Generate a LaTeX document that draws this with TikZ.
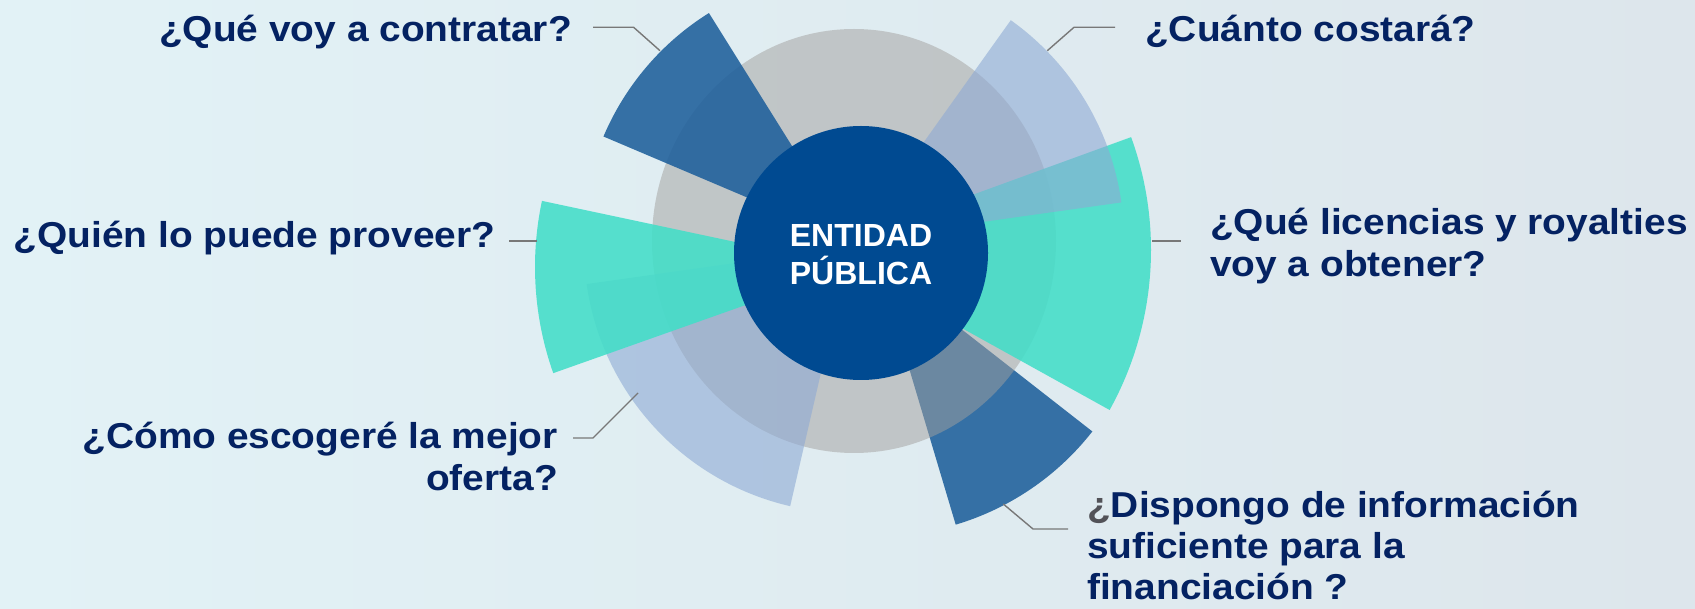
\documentclass[tikz,border=0pt]{standalone}
\usepackage{fontspec}
\setmainfont{Liberation Sans}
\newfontfamily\qfont{Liberation Sans}[FakeStretch=1.08]
\newfontfamily\cfont{Liberation Sans}
\usepackage{xcolor}
\usepackage{tikz}

\definecolor{bgleft}{RGB}{226,242,246}
\definecolor{bgright}{RGB}{221,230,236}
\definecolor{qnavy}{RGB}{4,34,98}
\definecolor{dblue}{RGB}{30,95,155}
\definecolor{lblue}{RGB}{142,170,212}
\definecolor{tealw}{RGB}{66,222,200}
\definecolor{ringgray}{RGB}{162,160,158}
\definecolor{coreblue}{RGB}{0,74,145}
\definecolor{leadgray}{RGB}{120,120,120}
\definecolor{qmark}{RGB}{82,82,88}

\begin{document}
\begin{tikzpicture}[x=1pt,y=1pt,
  question/.style={text=qnavy,font=\qfont\bfseries\fontsize{36}{42}\selectfont,inner sep=0pt},
  leader/.style={draw=leadgray,line width=1.4pt}]
\useasboundingbox (0,0) rectangle (1695,608);
\shade[left color=bgleft,right color=bgright] (0,0) rectangle (1695,608);
%\draw[step=50,gray,very thin] (0,0) grid (1695,608);
\fill[dblue,opacity=.88] (878,344) -- ++(-73.4:272) arc[start angle=-73.4,end angle=-38,radius=272] -- cycle;
\fill[ringgray,opacity=.5] (854,367) ellipse [x radius=202,y radius=212];
\fill[tealw,opacity=.88] (821,358) -- ++(-29:330) arc[start angle=-29,end angle=20,radius=330] -- cycle;
\fill[lblue,opacity=.6] (854,368) -- ++(8:270) arc[start angle=8,end angle=54.5,radius=270] -- cycle;
\fill[dblue,opacity=.88] (852,366) -- ++(122:270) arc[start angle=122,end angle=157,radius=270] -- cycle;
\fill[lblue,opacity=.6] (850,361) -- ++(188:266) arc[start angle=188,end angle=257,radius=266] -- cycle;
\fill[tealw,opacity=.88] (853,341) -- ++(168:318) arc[start angle=168,end angle=199.5,radius=318] -- cycle;
\fill[coreblue] (861,355) circle (127);
\node[text=white,font=\cfont\bfseries\fontsize{32}{38}\selectfont,align=center] (entidad) at (861,353.3) {ENTIDAD\\PÚBLICA};
\node[question,anchor=base east] (qcontratar) at (572,566.3) {¿Qué voy a contratar?};
\node[question,anchor=base west] (qcosto) at (1145,566.3) {¿Cuánto costará?};
\node[question,anchor=base west,align=left] (qlicencias) at (1210,331) {¿Qué licencias y royalties\\voy a obtener?};
\node[question,anchor=base east] (qproveer) at (495.5,360) {¿Quién lo puede proveer?};
\node[question,anchor=base east,align=right] (qoferta) at (558,117) {¿Cómo escogeré la mejor\\oferta?};
\node[question,anchor=base west,align=left,font=\qfont\bfseries\fontsize{36}{41}\selectfont] (qfinanc) at (1087,9) {{\color{qmark}¿}Dispongo de información\\suficiente para la\\financiación ?};
\coordinate (w1edge) at (660,557.3);
\coordinate (w2edge) at (1047.3,557.3);
\coordinate (w3edge) at (1152,367);
\coordinate (w4edge) at (1003.3,104);
\coordinate (w5edge) at (638,215);
\coordinate (w6edge) at (537,367);
\draw[leader] ([shift={(21,14.4)}]qcontratar.base east) -- ++(40.6,0) -- (w1edge);
\draw[leader] ([shift={(-30,14.4)}]qcosto.base west) -- ++(-41,0) -- (w2edge);
\draw[leader] (w3edge) -- ([shift={(-29,36)}]qlicencias.base west);
\draw[leader] (w6edge) -- ([shift={(13.5,7)}]qproveer.base east);
\draw[leader] ([shift={(15,53)}]qoferta.base east) -- ++(20,0) -- (w5edge);
\draw[leader] ([shift={(-19,70)}]qfinanc.base west) -- ++(-35,0) -- (w4edge);
\end{tikzpicture}
\end{document}
